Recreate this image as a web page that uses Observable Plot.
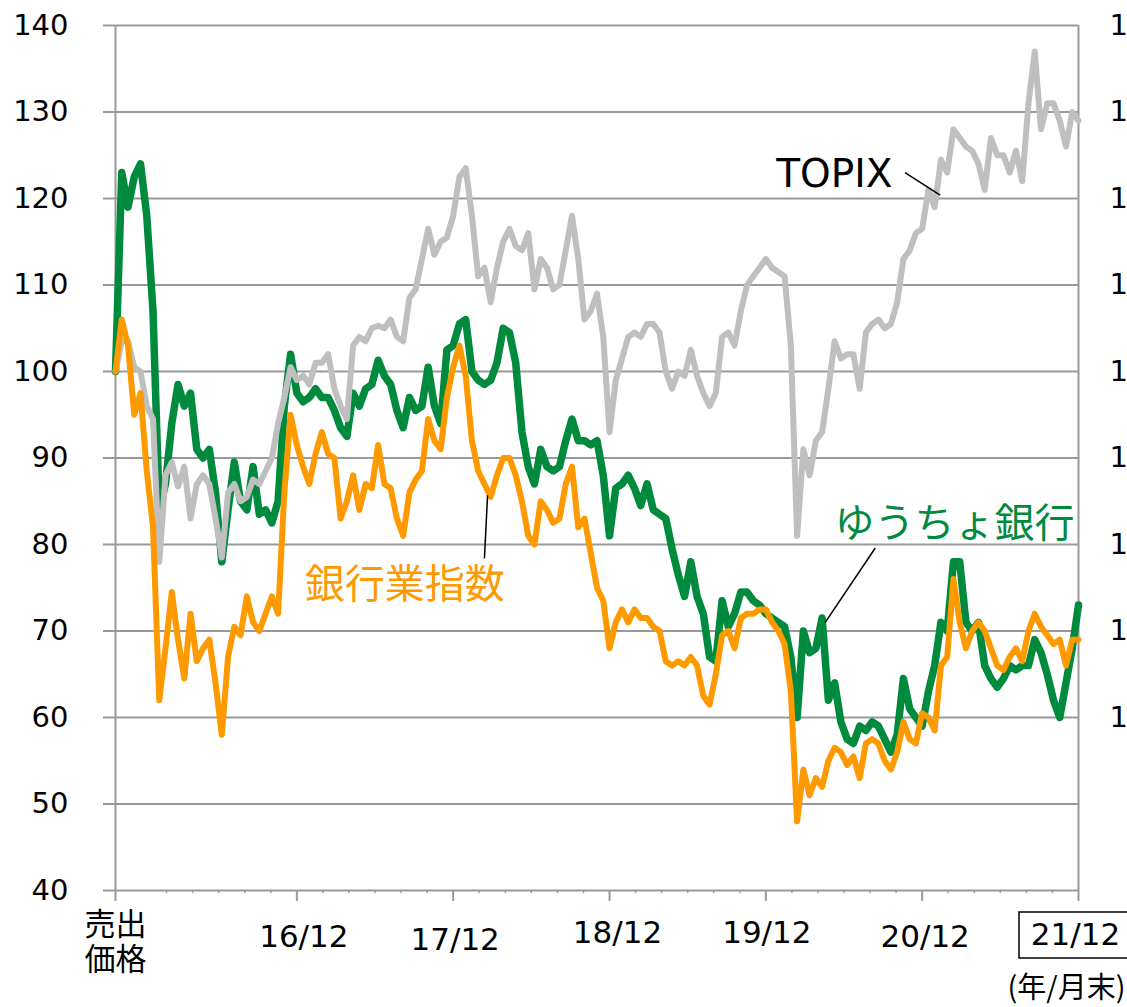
<!DOCTYPE html>
<html><head><meta charset="utf-8">
<script src="https://cdn.jsdelivr.net/npm/d3@7"></script>
<script src="https://cdn.jsdelivr.net/npm/@observablehq/plot@0.6"></script>
<style>body{margin:0;background:#fff;overflow:hidden}#chart svg{display:block}</style>
</head><body><div id="chart"></div>
<script>
// Sample dates as decimal years (2017.00 = end of Dec 2016)
const years = [
2015.84,2015.88,2015.92,2015.96,
2016.00,2016.04,2016.08,2016.12,2016.16,2016.20,2016.24,2016.28,2016.32,2016.36,2016.40,2016.44,2016.48,2016.52,2016.56,2016.60,2016.64,2016.68,2016.72,2016.76,2016.80,2016.84,2016.88,2016.92,2016.96,
2017.00,2017.04,2017.08,2017.12,2017.16,2017.20,2017.24,2017.28,2017.32,2017.36,2017.40,2017.44,2017.48,2017.52,2017.56,2017.60,2017.64,2017.68,2017.72,2017.76,2017.80,2017.84,2017.88,2017.92,2017.96,
2018.00,2018.04,2018.08,2018.12,2018.16,2018.20,2018.24,2018.28,2018.32,2018.36,2018.40,2018.44,2018.48,2018.52,2018.56,2018.60,2018.64,2018.68,2018.72,2018.76,2018.80,2018.84,2018.88,2018.92,2018.96,
2019.00,2019.04,2019.08,2019.12,2019.16,2019.20,2019.24,2019.28,2019.32,2019.36,2019.40,2019.44,2019.48,2019.52,2019.56,2019.60,2019.64,2019.68,2019.72,2019.76,2019.80,2019.84,2019.88,2019.92,2019.96,
2020.00,2020.04,2020.08,2020.12,2020.16,2020.20,2020.24,2020.28,2020.32,2020.36,2020.40,2020.44,2020.48,2020.52,2020.56,2020.60,2020.64,2020.68,2020.72,2020.76,2020.80,2020.84,2020.88,2020.92,2020.96,
2021.00,2021.04,2021.08,2021.12,2021.16,2021.20,2021.24,2021.28,2021.32,2021.36,2021.40,2021.44,2021.48,2021.52,2021.56,2021.60,2021.64,2021.68,2021.72,2021.76,2021.80,2021.84,2021.88,2021.92,2021.96,
2022.00];

// ゆうちょ銀行 (sale price = 100)
const yucho = [
100,123,119,122.5,124,118,107,84,87,94,
98.5,96,97.5,91,90,91,86,78,84,89.5,
85,84,89,83.5,84,82.5,85,96,102,97.5,
96.5,97,98,97,97,95.5,93.5,92.5,97.5,96,
98,98.5,101.3,99.5,98.5,95.5,93.5,97,95.5,96,
100.5,96,94,102.5,103,105.5,106,100,99,98.5,
99,101,105,104.5,101,93,89,87,91,89,
88.5,89,92,94.5,92,92,91.5,92,88,81,
86.5,87,88,86.5,84.5,87,84,83.5,83,79.5,
76.5,74,78,74,72,67,66.5,73.5,70.5,72,
74.5,74.5,73.5,73,72,71.5,71,70.5,67,60,
70,67.5,68,71.5,62,64,59.5,57.5,57,59,
58.5,59.5,59,57.5,56,58,64.5,61,60,59,
63,66,71,70,78,78,71,70,71,66,
64.5,63.5,64.5,66,65.5,66,66,69,67.5,65,
62,60,64,68,73];

// TOPIX
const topix = [
100,103.5,103.5,100.5,100,96,94.5,78,88,89.5,
86.7,89,83,87,88,87,83,78.5,86,87,
85,85.5,87.5,87,88.5,90,94,97,100.5,99,
99.5,98.5,101,101,102,98,96,94.5,103,104,
103.5,105,105.3,105,106,104,103.5,108.5,109.5,113,
116.5,113.5,115,115.5,118,122.5,123.5,118,111,112,
108,112,115,116.5,114.5,114,116,109.5,113,112,
109.5,110,114,118,113,106,107,109,104,93,
99,101.5,104,104.5,104,105.5,105.5,104.5,100,98,
100,99.5,102.5,99.5,97.5,96,97.5,104,104.5,103,
107,110,111,112,113,112,111.5,111,103,81,
91,88,92,93,98,103.5,101.5,102,102,98,
104.5,105.5,106,105,105.5,108,113,114,116,116.5,
121,119,124.5,123,128,127,126,125.5,124,121,
127,125,125,123,125.5,122,131,137,128,131,
131,129,126,130,129];

// 銀行業指数
const bank = [
100,106,103,95,97.5,88.5,82,62,68,74.5,
69,64.5,72,66.5,68,69,64,58,67,70.5,
69.5,74,71,70,72,74,72,86,95,91.5,
89,87,90.5,93,90.5,90,83,85,88,84,
87,86.5,91.5,87,86.5,83,81,86,87.5,88.5,
94.5,92,91,97,100.5,103,99.5,92,88.5,87,
85.5,88,90,90,88,85,81,80,85,84,
82.5,83,87,89,82,83,79,75,73.5,68,
71,72.5,71,72.5,71.5,71.5,70.5,70,66.5,66,
66.5,66,67,66,62.5,61.5,65,69.5,70,68,
71.5,72,72,72.5,72.5,71,70,68.5,63,48,
54,51,53,52,55,56.5,56,54.5,55.5,53,
57,57.5,57,55,54,56,59.5,57.5,57,60.5,
60,58.5,66,67,76,71,68,70,71,70,
68,66,65.5,67,68,66.5,70,72,70.5,69.5,
68.5,69,66,69,69];

const yTicks = [40,50,60,70,80,90,100,110,120,130,140];
const rightTicks = [60,70,80,90,100,110,120,130,140];
const xTickYears = [2017,2018,2019,2020,2021,2022];
const xTickLabels = ["16/12","17/12","18/12","19/12","20/12","21/12"];
const startYear = 2015.84;
const startLabel = ["売出","価格"];
const unitLabel = "(年/月末)";
const seriesNames = ["ゆうちょ銀行","TOPIX","銀行業指数"];
// annotation anchors (data coordinates)
const labelPos = [
  {name:"TOPIX", t:2020.81, v:122.8},
  {name:"ゆうちょ銀行", t:2020.44, v:82.4},
  {name:"銀行業指数", t:2017.05, v:75.3}
];
const leaders = [
  {t1:2020.89, v1:123.0, t2:2021.115, v2:120.4},
  {t1:2020.70, v1:79.6, t2:2020.38, v2:71.0},
  {t1:2018.22, v1:85.7, t2:2018.20, v2:78.4}
];

// ---- styles / layout ----
const GREEN = "#008A3E", GRAY = "#BFBFBF", ORANGE = "#FF9900", GRID = "#999999";
const LATIN = "'DejaVu Sans', Verdana, sans-serif";
const CJK = "'Noto Sans CJK JP', sans-serif";
const xLabelOffsets = [[7,47],[2,50],[8,43],[1,43],[3,47],[-3,45]];
const startLabelDy = [35, 70];

const minorTicks = d3.range(0, 37).map(k => 2016 + k/6).filter(t => Math.abs(t - Math.round(t)) > 1e-6);

const rowsOf = (vals) => years.map((t,i) => ({t, v: vals[i]}));

const plot = Plot.plot({
  width: 1127, height: 1007,
  marginLeft: 115, marginRight: 49, marginTop: 25, marginBottom: 117,
  x: {type: "linear", domain: [startYear, 2022]},
  y: {domain: [40, 140]},
  style: {fontFamily: LATIN, background: "white", color: "black"},
  marks: [
    Plot.ruleY(yTicks, {stroke: GRID, strokeWidth: 2}),
    Plot.axisY({ticks: yTicks, tickSize: 12, tickPadding: 35, fontSize: 29, stroke: GRID, strokeWidth: 2, fill: "black", tickFormat: d => String(d), label: null}),
    Plot.axisX({ticks: [startYear, ...xTickYears], tickSize: 11, stroke: GRID, strokeWidth: 2, tickFormat: () => "", label: null}),
    Plot.axisX({ticks: minorTicks, tickSize: 3, stroke: GRID, strokeWidth: 1.5, tickFormat: () => "", label: null}),
    Plot.ruleX([startYear, 2022], {y1: 40, y2: 140, stroke: GRID, strokeWidth: 2}),
    Plot.line(rowsOf(yucho), {x: "t", y: "v", stroke: GREEN, strokeWidth: 7.5, strokeLinejoin: "round", strokeLinecap: "round"}),
    Plot.line(rowsOf(topix), {x: "t", y: "v", stroke: GRAY, strokeWidth: 6, strokeLinejoin: "round", strokeLinecap: "round"}),
    Plot.line(rowsOf(bank), {x: "t", y: "v", stroke: ORANGE, strokeWidth: 6, strokeLinejoin: "round", strokeLinecap: "round"}),
    Plot.link(leaders, {x1: "t1", y1: "v1", x2: "t2", y2: "v2", stroke: "black", strokeWidth: 1.5}),
    Plot.text([labelPos[0]], {x: "t", y: "v", text: "name", textAnchor: "end", fontSize: 39, fill: "black", fontFamily: LATIN}),
    Plot.text([labelPos[1]], {x: "t", y: "v", text: "name", textAnchor: "start", fontSize: 40, fill: GREEN, fontFamily: CJK}),
    Plot.text([labelPos[2]], {x: "t", y: "v", text: "name", textAnchor: "start", fontSize: 40, fill: ORANGE, fontFamily: CJK}),
    Plot.text(rightTicks, {y: d => d, text: () => "1", frameAnchor: "right", textAnchor: "start", dx: 31, fontSize: 29, fill: "black"}),
    ...xTickLabels.map((lab, i) => Plot.text([lab], {x: xTickYears[i], text: d => d, frameAnchor: "bottom", lineAnchor: "middle", dx: xLabelOffsets[i][0], dy: xLabelOffsets[i][1], fontSize: 31, fill: "black", fontFamily: LATIN})),
    ...startLabel.map((lab, i) => Plot.text([lab], {x: startYear, text: d => d, frameAnchor: "bottom", lineAnchor: "middle", dy: startLabelDy[i], fontSize: 31, fill: "black", fontFamily: CJK})),
    Plot.text([unitLabel], {frameAnchor: "bottom-right", lineAnchor: "middle", textAnchor: "end", dx: 47, dy: 98, fontSize: 29, fill: "black", fontFamily: CJK})
  ]
});
document.getElementById("chart").appendChild(plot);

// box around the last period label
const xs = plot.scale("x");
const bx = xs.apply(2022) + xLabelOffsets[5][0];
d3.select(plot).append("rect")
  .attr("x", bx - 56).attr("y", 912).attr("width", 130).attr("height", 46)
  .attr("fill", "none").attr("stroke", "black").attr("stroke-width", 1.5);
</script></body></html>
